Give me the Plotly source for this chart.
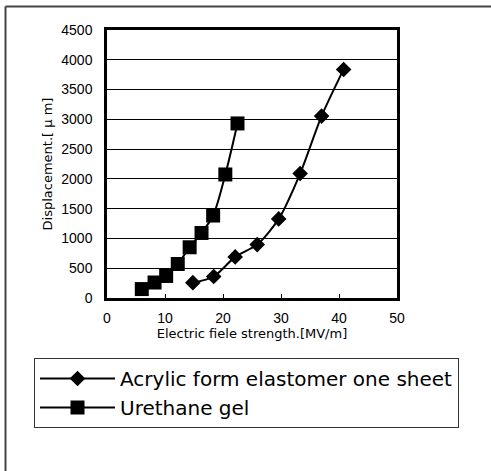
import plotly.graph_objects as go

# Data
acrylic_x = [14.8, 18.4, 22.1, 25.9, 29.6, 33.3, 37.0, 40.8]
acrylic_y = [258, 360, 690, 897, 1328, 2090, 3054, 3838]

urethane_x = [6.0, 8.2, 10.2, 12.2, 14.25, 16.3, 18.3, 20.4, 22.5]
urethane_y = [150, 260, 370, 571, 852, 1092, 1385, 2074, 2931]

series_names = ["Acrylic form elastomer one sheet", "Urethane gel"]
x_title = "Electric fiele strength.[MV/m]"
y_title = "Displacement.[ μ m]"

W, H = 491, 471
# target plot area in screen pixels: x 106.7..396.7, y 30..297.7
L, T = 107, 30
pw, ph = 290, 268
R = W - L - pw
B = H - T - ph


def px_to_paper_x(px):
    return (px - L) / pw


def py_to_paper_y(py):
    return (T + ph - py) / ph


fig = go.Figure()
fig.add_trace(go.Scatter(
    x=acrylic_x, y=acrylic_y, name=series_names[0], mode="lines+markers",
    line=dict(color="black", width=2, shape="spline", smoothing=0.8),
    marker=dict(symbol="diamond", size=12, color="black"),
))
fig.add_trace(go.Scatter(
    x=urethane_x, y=urethane_y, name=series_names[1], mode="lines+markers",
    line=dict(color="black", width=2, shape="spline", smoothing=0.8),
    marker=dict(symbol="square", size=14, color="black"),
))

font_tick = "Liberation Sans, Arial, sans-serif"
font_text = "DejaVu Sans, sans-serif"

frame_line = dict(color="#444444", width=2)

fig.update_layout(
    width=W, height=H,
    margin=dict(l=L, r=R, t=T, b=B, pad=0),
    paper_bgcolor="white", plot_bgcolor="white",
    font=dict(family=font_tick, color="black", size=14),
    showlegend=True,
    legend=dict(
        x=px_to_paper_x(34), y=py_to_paper_y(358), xanchor="left", yanchor="top",
        bgcolor="white", bordercolor="#333333", borderwidth=1,
        font=dict(size=20, family=font_text, color="black"),
        itemwidth=75, tracegroupgap=0,
    ),
    xaxis=dict(
        range=[0, 50], dtick=10, tick0=0,
        showgrid=False, zeroline=False,
        showline=True, linecolor="black", linewidth=2.5, mirror=True,
        ticks="inside", ticklen=4, tickcolor="black", tickwidth=1,
        ticklabelstandoff=5,
        tickfont=dict(size=14, family=font_tick),
        title=dict(text=x_title, font=dict(size=13, family=font_text), standoff=4),
    ),
    yaxis=dict(
        range=[0, 4500], dtick=500, tick0=0,
        showgrid=True, gridcolor="black", gridwidth=1, zeroline=False,
        showline=True, linecolor="black", linewidth=2.5, mirror=True,
        ticks="", ticklabelstandoff=9,
        tickfont=dict(size=14, family=font_tick),
        title=dict(text=y_title, font=dict(size=13, family=font_text), standoff=6),
    ),
    shapes=[
        dict(type="line", xref="paper", yref="paper", layer="below",
             x0=px_to_paper_x(5.5), x1=px_to_paper_x(5.5),
             y0=py_to_paper_y(6.5), y1=py_to_paper_y(471), line=frame_line),
        dict(type="line", xref="paper", yref="paper", layer="below",
             x0=px_to_paper_x(5.5), x1=px_to_paper_x(491),
             y0=py_to_paper_y(6.5), y1=py_to_paper_y(6.5), line=frame_line),
    ],
)

fig.write_html(
    "out.html", config={"displayModeBar": False},
    post_script=("document.body.style.margin='0';"
                 "document.body.style.overflow='hidden';"
                 "document.documentElement.style.overflow='hidden';"),
)
